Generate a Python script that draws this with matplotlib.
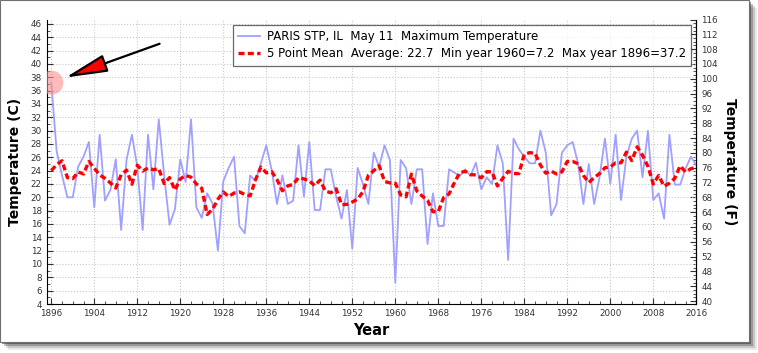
import matplotlib.pyplot as plt
import numpy as np
import pandas as pd
from matplotlib.patches import Rectangle
from matplotlib.ticker import MultipleLocator

# May 11 maximum temperature, Paris STP IL (deg C)
years = list(range(1896, 2017))
tmax = [37.2, 26.9, 23.3, 20.0, 20.0, 24.6, 26.1, 28.3, 18.5, 29.4,
        19.5, 21.1, 25.7, 15.1, 25.6, 29.4, 24.6, 15.1, 29.4, 21.2,
        31.7, 23.3, 15.9, 18.2, 25.7, 22.3, 31.7, 18.5, 16.9, 20.6,
        19.1, 12.0, 22.4, 24.4, 26.1, 15.7, 14.6, 23.3, 22.4, 25.1,
        27.8, 24.1, 19.0, 23.3, 19.0, 19.5, 27.8, 20.1, 28.3, 18.1,
        18.1, 24.2, 24.2, 20.1, 16.8, 21.1, 12.3, 24.4, 21.9, 19.0,
        26.7, 24.6, 27.8, 25.6, 7.2, 25.6, 24.4, 19.0, 24.2, 24.2,
        13.0, 20.6, 15.7, 15.7, 24.2, 23.7, 23.2, 24.2, 23.2, 25.2,
        21.2, 23.0, 22.0, 27.8, 25.1, 10.6, 28.8, 27.2, 26.1, 25.1,
        25.1, 30.0, 26.7, 17.3, 19.0, 26.7, 27.8, 28.3, 25.1, 19.0,
        25.0, 19.0, 23.0, 28.8, 22.0, 29.4, 19.6, 26.1, 28.8, 30.0,
        23.0, 30.0, 19.6, 20.6, 16.8, 29.4, 21.9, 21.9, 24.3, 26.1,
        24.8]

# 5 point mean values at the ends (window runs past the shown years)
mean_edges = {1896: 24.0, 1897: 24.9, 2015: 24.3, 2016: 24.5}
# average as printed in the legend
average_c = 22.7

series = pd.Series(tmax, index=years)
mean5 = series.rolling(5, center=True).mean()
for yr, v in mean_edges.items():
    mean5[yr] = v

W, H = 758, 353
fig = plt.figure(figsize=(W / 100, H / 100), dpi=100)
fig.patch.set_facecolor('white')

# card with drop shadow
for i, a in enumerate([0.10, 0.18, 0.30, 0.50]):
    off = 8 - 2 * i
    fig.add_artist(Rectangle((off / W, 1 - (342 + off) / H), 749 / W, 342 / H,
                             transform=fig.transFigure, fc='#303030', ec='none',
                             alpha=a, zorder=0))
fig.add_artist(Rectangle((0, 1 - 342 / H), 749 / W, 342 / H, transform=fig.transFigure,
                         fc='white', ec='#707070', lw=0.8, zorder=1))

ax = fig.add_axes([46.7 / W, 1 - 304 / H, (696.3 - 46.7) / W, (304 - 19.5) / H])
ax.set_facecolor('none')
ax.set_zorder(2)

ax.plot(series.index, series.values, color='#a0a0ff', lw=1.3,
        label='PARIS STP, IL  May 11  Maximum Temperature')
ax.plot(mean5.index, mean5.values, color='#ff0000', lw=2.4, ls=(0, (1.8, 1.0)),
        label='5 Point Mean  Average: %.1f  Min year %d=%.1f  Max year %d=%.1f'
        % (average_c, series.idxmin(), series.min(), series.idxmax(), series.max()))

ax.set_xlim(1895.15, 2016)
ax.set_ylim(4, 46.67)
ax.set_xticks(range(1896, 2017, 8))
ax.xaxis.set_minor_locator(MultipleLocator(2))
ax.yaxis.set_major_locator(MultipleLocator(2))
ax.yaxis.set_minor_locator(MultipleLocator(1))
ax.grid(True, which='major', ls=':', color='#c8c8c8', lw=0.8)
ax.tick_params(which='both', direction='in', labelsize=6.3, colors='#333333')
ax.tick_params(which='major', length=4)
ax.tick_params(which='minor', length=2)
ax.spines['top'].set_visible(False)

ax.set_xlabel('Year', fontsize=10.5, fontweight='bold', labelpad=4)
ax.set_ylabel('Temperature (C)', fontsize=10, fontweight='bold', labelpad=6)

sec = ax.secondary_yaxis('right', functions=(lambda c: c * 9 / 5 + 32,
                                             lambda f: (f - 32) * 5 / 9))
sec.set_yticks(range(40, 117, 4))
sec.yaxis.set_minor_locator(MultipleLocator(1))
sec.tick_params(which='both', direction='in', labelsize=6.3, colors='#333333')
sec.tick_params(which='major', length=4)
sec.tick_params(which='minor', length=2)
sec.set_ylabel('Temperature (F)', fontsize=10, fontweight='bold', rotation=270,
               labelpad=14)

# highlight the maximum
ax.scatter([series.idxmax()], [series.max()], s=300, color='#ff8c8c', alpha=0.6,
           edgecolors='none', zorder=5)
ax.annotate('', xy=(series.idxmax(), series.max()), xytext=(78, 28),
            textcoords='offset points',
            arrowprops=dict(arrowstyle='-|>,head_length=2.6,head_width=0.55',
                            fc='red', ec='black', lw=1.6, shrinkA=0, shrinkB=11),
            zorder=6)

leg = ax.legend(loc='upper left', bbox_to_anchor=(233 / W, 1 - 25 / H),
                bbox_transform=fig.transFigure, fontsize=8.5, frameon=True,
                fancybox=False, edgecolor='#444444', handlelength=1.8,
                handletextpad=0.6, borderpad=0.45, labelspacing=0.35,
                borderaxespad=0)
leg.get_frame().set_linewidth(0.9)

fig.savefig('out.png', dpi=100)
